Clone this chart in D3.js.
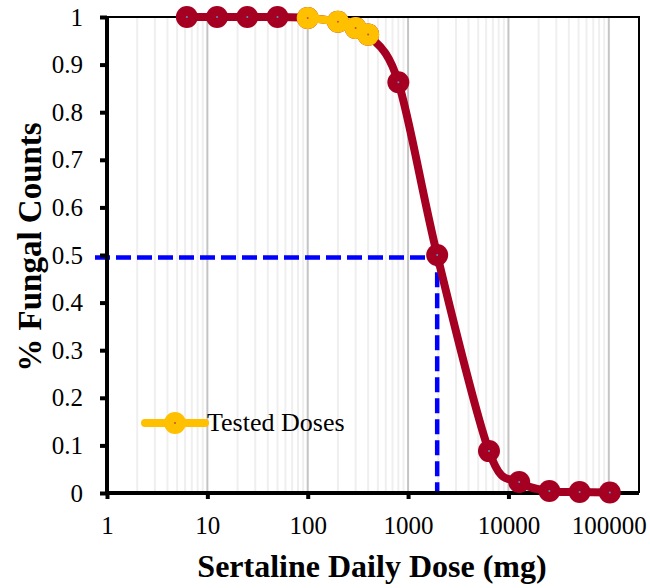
<!DOCTYPE html>
<html lang="en">
<head>
<meta charset="UTF-8">
<title>Fungal counts vs dose</title>
<script src="https://cdn.jsdelivr.net/npm/d3@7"></script>
<style>
  body { margin: 0; background: #fff; }
  svg text { font-family: "Liberation Serif", "Times New Roman", serif; fill: #000; }
</style>
</head>
<body>
<div id="chart"></div>
<script>
// data
const doses  = [6.25, 12.5, 25, 50, 100, 200, 300, 400, 800, 1950, 6400, 12800, 25600, 51200, 102400];
const counts = [1, 1, 1, 1, 0.998, 0.99, 0.977, 0.963, 0.863, 0.5, 0.088, 0.023, 0.004, 0.002, 0.001];
const testedIdx = [4, 5, 6, 7];
const yTicks = [0, 0.1, 0.2, 0.3, 0.4, 0.5, 0.6, 0.7, 0.8, 0.9, 1];
const xTicks = [1, 10, 100, 1000, 10000, 100000];
const halfDose = 1950, halfCount = 0.495;

const W = 650, H = 588;
const serif = '"Liberation Serif", "Times New Roman", serif';
const svg = d3.select("#chart").append("svg").attr("width", W).attr("height", H);

const x = d3.scaleLog().domain([1, 200000]).range([107, 639]);
const y = d3.scaleLinear().domain([0, 1]).range([493, 17]);

// minor + major vertical gridlines
let minor = [];
for (let d = 1; d < 100000; d *= 10) {
    for (let k = 2; k <= 9; k++) minor.push(d * k);
}
svg.append("g").selectAll("line").data(minor).join("line")
    .attr("x1", d => x(d)).attr("x2", d => x(d))
    .attr("y1", y(0)).attr("y2", y(1))
    .attr("stroke", "#efefef").attr("stroke-width", 2);
svg.append("g").selectAll("line").data(xTicks.slice(1)).join("line")
    .attr("x1", d => x(d)).attr("x2", d => x(d))
    .attr("y1", y(0)).attr("y2", y(1))
    .attr("stroke", "#c4c4c4").attr("stroke-width", 2);

// frame top/right
svg.append("path")
    .attr("d", `M${x(1)},${y(1)}H${x(200000)}V${y(0)}`)
    .attr("fill", "none").attr("stroke", "#000").attr("stroke-width", 2);

// dashed guide at 50%
svg.append("path")
    .attr("d", `M95,${y(halfCount)}H${x(halfDose)}V${y(0)}`)
    .attr("fill", "none").attr("stroke", "#0000ff").attr("stroke-width", 4.5)
    .attr("stroke-dasharray", "15,6");

// axes
const xAxis = svg.append("g").attr("transform", `translate(0,${y(0)})`)
    .call(d3.axisBottom(x).tickValues(xTicks).tickFormat(d3.format("d")).tickSize(6).tickPadding(17));
const yAxis = svg.append("g").attr("transform", `translate(${x(1)},0)`)
    .call(d3.axisLeft(y).tickValues(yTicks).tickFormat(d => d).tickSize(7).tickPadding(17));
[xAxis, yAxis].forEach(a => {
    a.attr("font-family", serif).attr("font-size", 25);
    a.select(".domain").attr("stroke", "#000").attr("stroke-width", 4);
    a.selectAll(".tick line").attr("stroke", "#000").attr("stroke-width", 4);
    a.selectAll("text").style("font-family", serif).style("font-size", "25px");
});
xAxis.select(".domain").attr("d", `M${x(1) - 2},0H${x(200000)}`);
yAxis.select(".domain").attr("d", `M0,${y(1)}V${y(0) + 2}`);

const pts = doses.map((d, i) => [d, counts[i]]);
const line = d3.line().x(d => x(d[0])).y(d => y(d[1])).curve(d3.curveCatmullRom.alpha(0));

const red = "#a50021", yellow = "#ffc000";

// all doses, red
svg.append("path").attr("d", line(pts))
    .attr("fill", "none").attr("stroke", red).attr("stroke-width", 8);
svg.append("g").selectAll("circle").data(pts).join("circle")
    .attr("cx", d => x(d[0])).attr("cy", d => y(d[1])).attr("r", 11).attr("fill", red);

// tested doses, yellow
const tested = testedIdx.map(i => pts[i]);
svg.append("path").attr("d", line(tested))
    .attr("fill", "none").attr("stroke", yellow).attr("stroke-width", 8);
svg.append("g").selectAll("circle").data(tested).join("circle")
    .attr("cx", d => x(d[0])).attr("cy", d => y(d[1])).attr("r", 11).attr("fill", yellow);

// little center dots
svg.append("g").selectAll("circle").data(pts).join("circle")
    .attr("cx", d => x(d[0])).attr("cy", d => y(d[1])).attr("r", 1)
    .attr("fill", (d, i) => testedIdx.includes(i) ? "#c0504d" : "#5b8fc9");

// legend
const lg = svg.append("g").attr("transform", "translate(145,423)");
lg.append("line").attr("x1", 0).attr("x2", 60).attr("stroke", yellow)
    .attr("stroke-width", 8).attr("stroke-linecap", "round");
lg.append("circle").attr("cx", 30).attr("r", 11).attr("fill", yellow);
lg.append("circle").attr("cx", 30).attr("r", 1).attr("fill", "#c0504d");
lg.append("text").attr("x", 62).attr("y", 8).style("font-size", "26px").text("Tested Doses");

// axis titles
svg.append("text").attr("x", 372).attr("y", 577).attr("text-anchor", "middle")
    .style("font-size", "32px").style("font-weight", "bold").text("Sertaline Daily Dose (mg)");
svg.append("text").attr("transform", "translate(41,247) rotate(-90)").attr("text-anchor", "middle")
    .style("font-size", "33px").style("font-weight", "bold").text("% Fungal Counts");
</script>
</body>
</html>
